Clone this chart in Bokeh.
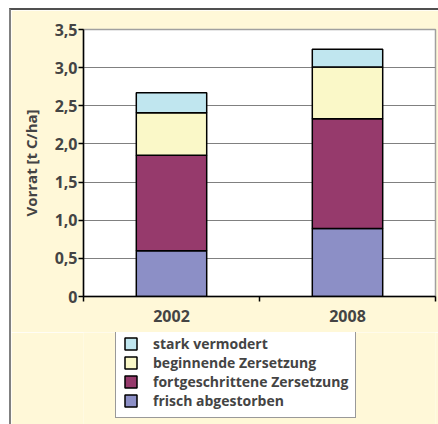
from bokeh.plotting import figure
from bokeh.layouts import column
from bokeh.models import (ColumnDataSource, Range1d, FixedTicker, Legend, LegendItem)
from bokeh.embed import file_html
from bokeh.resources import INLINE

# ---- data ----
years = ["2002", "2008"]
frisch = [0.60, 0.89]
fortgeschritten = [1.25, 1.44]
beginnend = [0.56, 0.68]
stark = [0.26, 0.23]
series_labels = ["frisch abgestorben", "fortgeschrittene Zersetzung",
                 "beginnende Zersetzung", "stark vermodert"]
series_colors = ["#8C8FC6", "#963A6C", "#FAF8C8", "#C0E6EF"]
y_ticks = [0, 0.5, 1.0, 1.5, 2.0, 2.5, 3.0, 3.5]
y_tick_labels = ["0", "0,5", "1,0", "1,5", "2,0", "2,5", "3,0", "3,5"]
y_label = "Vorrat [t C/ha]"

FONT = "Open Sans"
BG = "#FFF8D8"
stack_keys = ["frisch", "fort", "beg", "stark"]

xpos = [i + 0.5 for i in range(len(years))]
src = ColumnDataSource(dict(x=xpos, frisch=frisch, fort=fortgeschritten,
                            beg=beginnend, stark=stark))

p = figure(width=427, height=322, output_backend="svg", toolbar_location=None,
           x_range=Range1d(0, len(years)), y_range=Range1d(0, 3.5),
           min_border_left=72, min_border_top=19, min_border_right=3,
           min_border_bottom=36)
p.background_fill_color = "white"
p.border_fill_color = BG
p.outline_line_color = "#A0A0A0"
p.outline_line_width = 1.5

p.vbar_stack(stack_keys, x="x", width=0.4, source=src,
             fill_color=series_colors, line_color="black", line_width=1.5)

# axes
yax = p.yaxis[0]
yax.ticker = FixedTicker(ticks=y_ticks, minor_ticks=[])
yax.major_label_overrides = {t: l for t, l in zip(y_ticks, y_tick_labels)}
yax.axis_label = y_label
yax.axis_label_text_font = FONT
yax.axis_label_text_font_style = "bold"
yax.axis_label_text_font_size = "15px"
yax.axis_label_standoff = 11
yax.major_label_text_font = FONT
yax.major_label_text_font_style = "bold"
yax.major_label_text_font_size = "16px"
yax.major_label_standoff = 1
yax.major_tick_in = 0
yax.major_tick_out = 5
yax.minor_tick_line_color = None
yax.axis_line_color = "black"
yax.axis_line_width = 1.5
yax.major_tick_line_width = 1.5

xax = p.xaxis[0]
xax.ticker = FixedTicker(ticks=xpos, minor_ticks=[0, 1, 2])
xax.major_label_overrides = {x: y for x, y in zip(xpos, years)}
xax.major_label_text_font = FONT
xax.major_label_text_font_style = "bold"
xax.major_label_text_font_size = "16px"
xax.major_label_standoff = 8
xax.major_tick_line_color = None
xax.major_tick_in = 0
xax.major_tick_out = 0
xax.minor_tick_in = 0
xax.minor_tick_out = 5
xax.minor_tick_line_width = 1.5
xax.minor_tick_line_color = "black"
xax.axis_line_color = "black"
xax.axis_line_width = 1.5

p.xgrid.visible = False
p.ygrid.ticker = FixedTicker(ticks=y_ticks)
p.ygrid.grid_line_color = "#808080"
p.ygrid.grid_line_width = 1.2

# ---- legend panel (separate figure below the chart) ----
pl = figure(width=427, height=92, output_backend="svg", toolbar_location=None,
            x_range=Range1d(0, len(years)), y_range=Range1d(0, 3.5),
            x_axis_type=None, y_axis_type=None,
            min_border_left=0, min_border_right=0, min_border_top=0,
            min_border_bottom=0)
pl.background_fill_color = BG
pl.border_fill_color = BG
pl.outline_line_color = None
pl.xgrid.visible = False
pl.ygrid.visible = False
leg_renderers = pl.vbar_stack(stack_keys, x="x", width=0.4, source=src,
                              fill_color=series_colors, line_color="black",
                              line_width=1.5, visible=False)

items = [LegendItem(label=lab, renderers=[r])
         for lab, r in reversed(list(zip(series_labels, leg_renderers)))]
legend = Legend(items=items, location=(32, 6))
legend.background_fill_color = "white"
legend.background_fill_alpha = 1
legend.border_line_color = "#333333"
legend.border_line_width = 1
legend.padding = 7
legend.margin = 0
legend.spacing = 0
legend.glyph_width = 15
legend.glyph_height = 15
legend.label_height = 18
legend.label_standoff = 15
legend.label_text_font = FONT
legend.label_text_font_style = "bold"
legend.label_text_font_size = "14px"
legend.label_text_line_height = 1.0
legend.inactive_fill_alpha = 0
pl.add_layout(legend, "center")

layout = column(p, pl, spacing=0,
                styles={"margin-left": "9px", "margin-top": "8px",
                        "border-left": "2px solid #808080",
                        "border-top": "2px solid #505050"})

open("out.html", "w").write(file_html(layout, INLINE))
